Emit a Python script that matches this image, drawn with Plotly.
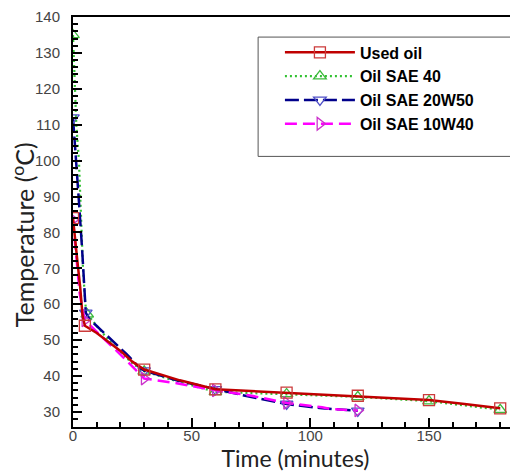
import plotly.graph_objects as go

# ---------------- data ----------------
used_time = [0, 1, 2, 3, 4, 5, 10, 20, 25, 30, 45, 60, 75, 90, 105, 120, 135, 150, 165, 180]
used_temp = [84, 76.5, 71, 65, 57, 54, 52, 47, 44, 41.8, 38.8, 36.3, 35.8, 35.4, 35.0, 34.5, 34.0, 33.3, 32.2, 31.0]
used_marks = [0, 5, 30, 60, 90, 120, 150, 180]

sae40_time = [0, 0.7, 1.4, 2.5, 3.1, 3.5, 4.2, 5.2, 6, 15, 25, 30, 45, 60, 75, 90, 105, 120, 135, 150, 165, 180]
sae40_temp = [135, 120, 110, 100, 90, 80, 70, 60, 57.2, 50, 43.5, 41.3, 38.3, 35.6, 35.3, 35.0, 34.6, 34.2, 33.6, 33.0, 31.8, 30.6]
sae40_marks = [0, 6, 30, 60, 90, 120, 150, 180]

w50_time = [0, 1.1, 2.5, 3.8, 4.5, 4.9, 5.4, 7, 22.6, 28.2, 30, 43.7, 60, 74.6, 90, 105, 120]
w50_temp = [112, 102.5, 88.6, 75.7, 67.4, 61, 57.6, 55.8, 46.1, 42.2, 41.5, 38.8, 36.3, 34.2, 32.2, 31.0, 30.3]
w50_marks = [0, 5.4, 30, 60, 90, 120]

w40_time = [0, 1.4, 2.8, 4.2, 5, 22.6, 30, 43.7, 60, 74.6, 90, 105, 108.7, 114, 120]
w40_temp = [83.5, 72.3, 63, 58, 55.5, 44.3, 39.3, 38.0, 36.0, 34.6, 32.5, 31.3, 30.8, 30.6, 30.4]
w40_marks = [0, 5, 30, 60, 90, 120]

series_names = ["Used oil", "Oil SAE 40", "Oil SAE 20W50", "Oil SAE 10W40"]

x_ticks = [0, 50, 100, 150]
y_ticks = [30, 40, 50, 60, 70, 80, 90, 100, 110, 120, 130, 140]

x_title = "Time (minutes)"
y_title = "Temperature (<sup>o</sup>C)"

# ---------------- styles ----------------
styles = {
    "Used oil": dict(line=dict(color="#c00000", width=2.5, dash="solid"),
                     symbol="square-open", mcolor="#cc3b3b"),
    "Oil SAE 40": dict(line=dict(color="#33c233", width=2.2, dash="2px,3px"),
                       symbol="triangle-up-open", mcolor="#3dba3d"),
    "Oil SAE 20W50": dict(line=dict(color="#00008b", width=2.5, dash="14px,5px"),
                          symbol="triangle-down-open", mcolor="#5050c8"),
    "Oil SAE 10W40": dict(line=dict(color="#ff00ff", width=2.5, dash="12px,6px"),
                          symbol="triangle-right-open", mcolor="#cc33cc"),
}

data = {
    "Used oil": (used_time, used_temp, used_marks),
    "Oil SAE 40": (sae40_time, sae40_temp, sae40_marks),
    "Oil SAE 20W50": (w50_time, w50_temp, w50_marks),
    "Oil SAE 10W40": (w40_time, w40_temp, w40_marks),
}

fig = go.Figure()

# drawing order: green, blue, magenta, red on top
for name in ["Oil SAE 40", "Oil SAE 20W50", "Oil SAE 10W40", "Used oil"]:
    t, v, marks = data[name]
    st = styles[name]
    fig.add_trace(go.Scatter(x=t, y=v, mode="lines", line=st["line"],
                             showlegend=False, hoverinfo="skip"))
    mx = [ti for ti in t if ti in marks]
    my = [vi for ti, vi in zip(t, v) if ti in marks]
    fig.add_trace(go.Scatter(x=mx, y=my, mode="markers",
                             marker=dict(symbol=st["symbol"], size=11, color=st["mcolor"],
                                         line=dict(width=1.3, color=st["mcolor"])),
                             showlegend=False))

# legend entries
for name in series_names:
    st = styles[name]
    fig.add_trace(go.Scatter(x=[None], y=[None], mode="lines+markers", name=name,
                             line=st["line"],
                             marker=dict(symbol=st["symbol"], size=11, color=st["mcolor"],
                                         line=dict(width=1.3, color=st["mcolor"]))))

axis_common = dict(showgrid=False, zeroline=False, showline=True, linecolor="black",
                   linewidth=2, ticks="inside", tickcolor="black", tickwidth=2,
                   automargin=False, ticklabeloverflow="allow",
                   tickfont=dict(family="Liberation Sans, Arial", size=15, color="#444"))

fig.update_xaxes(range=[0, 187.5], tickvals=x_ticks, ticklen=9, mirror=True,
                 ticklabelstandoff=-6,
                 minor=dict(dtick=10, tick0=0, ticks="inside", ticklen=5, tickwidth=1.5, tickcolor="black"),
                 title=dict(text=x_title, standoff=2,
                            font=dict(family="Lato", size=23, color="#222")),
                 **axis_common)
fig.update_yaxes(range=[25.8, 140], tickvals=y_ticks, ticklen=9, mirror=False,
                 ticklabelstandoff=8,
                 minor=dict(dtick=2, tick0=30, ticks="inside", ticklen=5, tickwidth=1.5, tickcolor="black"),
                 **axis_common)

fig.add_annotation(text=y_title, xref="paper", yref="paper", x=-0.1124, y=0.47,
                   xanchor="center", yanchor="middle", textangle=-90, showarrow=False,
                   font=dict(family="Lato", size=25, color="#222"))

fig.add_shape(type="rect", xref="paper", yref="paper", x0=0.416, x1=0.987, y0=0.66, y1=0.951,
              line=dict(color="#555", width=1), fillcolor="rgba(0,0,0,0)")

# page body adds an 8px offset; figure sized so the plot lands where the reference has it
fig.update_layout(
    width=510, height=465,
    margin=dict(l=65, r=0, t=9, b=46),
    paper_bgcolor="white", plot_bgcolor="white",
    legend=dict(x=0.465, y=0.955, xanchor="left", yanchor="top",
                bgcolor="rgba(0,0,0,0)", borderwidth=0, itemwidth=70,
                font=dict(family="Liberation Sans, Arial", size=16, color="black", weight="bold"),
                tracegroupgap=0),
)

fig.write_html("out.html")
